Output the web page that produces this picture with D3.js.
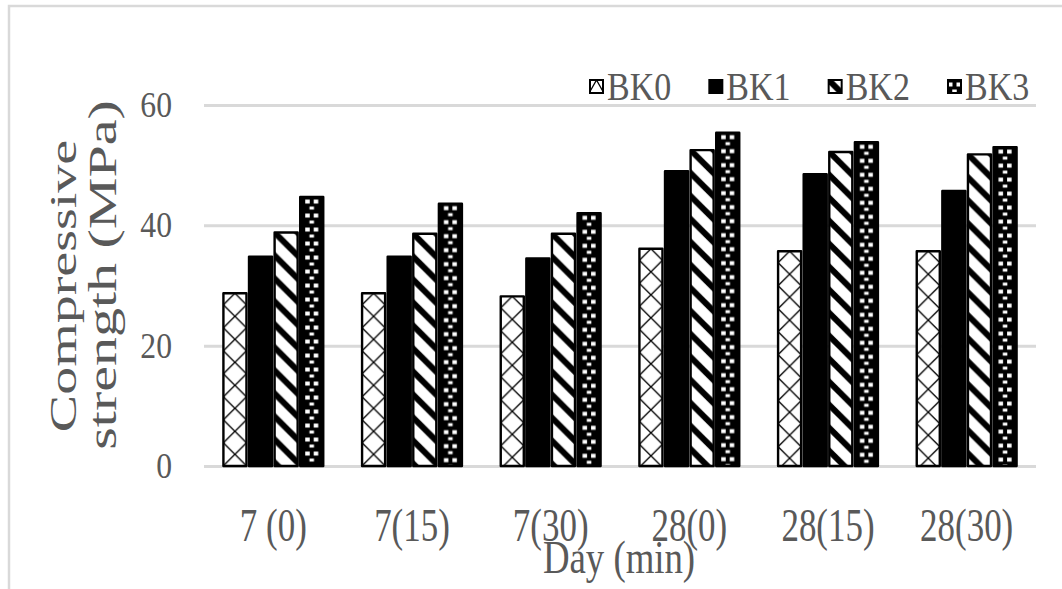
<!DOCTYPE html>
<html>
<head>
<meta charset="utf-8">
<script src="https://cdn.jsdelivr.net/npm/d3@7"></script>
<style>
  html, body { margin: 0; padding: 0; background: #fff; }
  svg { display: block; }
  text { font-family: "Liberation Serif", "Times New Roman", serif; fill: #595959; }
</style>
</head>
<body>
<svg id="chart" width="1062" height="589"></svg>
<script>
// Compressive strength by curing age (day) and delay (min)
const categories = ["7 (0)", "7(15)", "7(30)", "28(0)", "28(15)", "28(30)"];
const seriesNames = ["BK0", "BK1", "BK2", "BK3"];
const bk0 = [28.7, 28.7, 28.2, 36.1, 35.7, 35.7];
const bk1 = [34.8, 34.8, 34.5, 49.0, 48.5, 45.7];
const bk2 = [38.8, 38.6, 38.6, 52.5, 52.2, 51.8];
const bk3 = [44.7, 43.6, 42.0, 55.4, 53.8, 53.0];
const yTicks = [0, 20, 40, 60];
const yTitleLines = ["Compressive", "strength (MPa)"];
const xTitle = "Day (min)";

const seriesValues = [bk0, bk1, bk2, bk3];

const W = 1062, H = 589;
const plot = { left: 204, right: 1036, top: 105, bottom: 466 };
const grid = "#d9d9d9";

const svg = d3.select("#chart");
const defs = svg.append("defs");

// outer frame (left and top edges only)
svg.append("path")
  .attr("d", `M9,${H} L9,6 L${W},6`)
  .attr("fill", "none").attr("stroke", grid).attr("stroke-width", 2.5);

const y = d3.scaleLinear().domain([0, 60]).range([plot.bottom, plot.top]);
const x0 = d3.scaleBand().domain(categories).range([plot.left, plot.right])
  .paddingInner(0.28).paddingOuter(0.14);
const x1 = d3.scaleBand().domain(seriesNames).range([0, x0.bandwidth()])
  .paddingInner(0.1);

// gridlines
const gAxis = svg.append("g").attr("transform", `translate(${plot.left},0)`)
  .call(d3.axisLeft(y).tickValues(yTicks).tickSize(-(plot.right - plot.left)).tickFormat(""));
gAxis.select(".domain").remove();
gAxis.selectAll(".tick line").attr("stroke", grid).attr("stroke-width", 3);

// helper for horizontally condensed text
function label(txt, x, yPos, size, sx, anchor, rot) {
  const g = svg.append("g")
    .attr("transform", `translate(${x},${yPos}) scale(${sx},1)` + (rot ? ` rotate(${rot})` : ""));
  return g.append("text").text(txt)
    .attr("font-size", size).attr("text-anchor", anchor);
}

// y tick labels
yTicks.forEach(t => {
  label(String(t), 172, y(t) + 12, 36, 0.88, "end");
});

// x tick labels
categories.forEach(c => {
  label(c, x0(c) + x0.bandwidth() / 2, 541, 46, 0.76, "middle");
});

// axis titles
label(xTitle, 619, 573, 46, 0.8, "middle");
label(yTitleLines[0], 76, 286, 56, 0.68, "middle", -90);
label(yTitleLines[1], 116, 275, 58, 0.68, "middle", -90);

// fill patterns, built per mark so each tile lines up with the bar edges
function makePattern(id, series, px, py, w) {
  const p = defs.append("pattern").attr("id", id)
    .attr("patternUnits", "userSpaceOnUse");
  if (series === "BK0") {
    const h = 23;
    p.attr("x", px).attr("y", py).attr("width", w).attr("height", h);
    p.append("rect").attr("width", w).attr("height", h).attr("fill", "#fff");
    p.append("path")
      .attr("d", `M0,${-h/2} L${w},${h/2} M0,${h/2} L${w},${h*1.5} M${w},${-h/2} L0,${h/2} M${w},${h/2} L0,${h*1.5}`)
      .attr("stroke", "#000").attr("stroke-width", 1.3).attr("fill", "none");
  } else if (series === "BK2") {
    const h = 23;
    p.attr("x", px).attr("y", py).attr("width", w).attr("height", h);
    p.append("rect").attr("width", w).attr("height", h).attr("fill", "#fff");
    [-2, -1, 0, 1].forEach(k => {
      p.append("line")
        .attr("x1", -6).attr("y1", -6 + k * h)
        .attr("x2", w + 6).attr("y2", w + 6 + k * h)
        .attr("stroke", "#000").attr("stroke-width", 6);
    });
  } else if (series === "BK3") {
    const h = 14;
    p.attr("x", px).attr("y", py).attr("width", w).attr("height", h);
    p.append("rect").attr("width", w).attr("height", h).attr("fill", "#000");
    const c = w / 2;
    [[c - 6.5, 2.5, 4.5, 4], [c + 2, 2.5, 4.5, 4], [c - 2.25, 9.5, 4.5, 3]].forEach(r => {
      p.append("rect").attr("x", r[0]).attr("y", r[1]).attr("width", r[2]).attr("height", r[3]).attr("fill", "#fff");
    });
  }
  return `url(#${id})`;
}

function fillFor(series, id, px, py, w) {
  return series === "BK1" ? "#000" : makePattern(id, series, px, py, w);
}

// bars
const bars = [];
categories.forEach((c, i) => {
  seriesNames.forEach((s, j) => {
    bars.push({ cat: c, series: s, value: seriesValues[j][i], i, j });
  });
});

svg.append("g").selectAll("rect").data(bars).join("rect")
  .attr("x", d => x0(d.cat) + x1(d.series))
  .attr("y", d => y(d.value))
  .attr("width", x1.bandwidth())
  .attr("height", d => y(0) - y(d.value))
  .attr("fill", d => fillFor(d.series, `pat-${d.series}-${d.i}`, x0(d.cat) + x1(d.series), y(d.value), x1.bandwidth()))
  .attr("stroke", "#000").attr("stroke-width", 2.4)
  .attr("stroke-linejoin", "round");

// legend
const legendX = d3.scalePoint().domain(seriesNames).range([590, 948]);
const sw = 13;
const legend = svg.append("g");
seriesNames.forEach(s => {
  const lx = legendX(s), ly = 80;
  legend.append("rect")
    .attr("x", lx).attr("y", ly).attr("width", sw).attr("height", sw)
    .attr("fill", fillFor(s, `leg-${s}`, lx, ly, sw))
    .attr("stroke", "#000").attr("stroke-width", 2);
  label(s, lx + 17, 100, 40, 0.85, "start");
});
</script>
</body>
</html>
